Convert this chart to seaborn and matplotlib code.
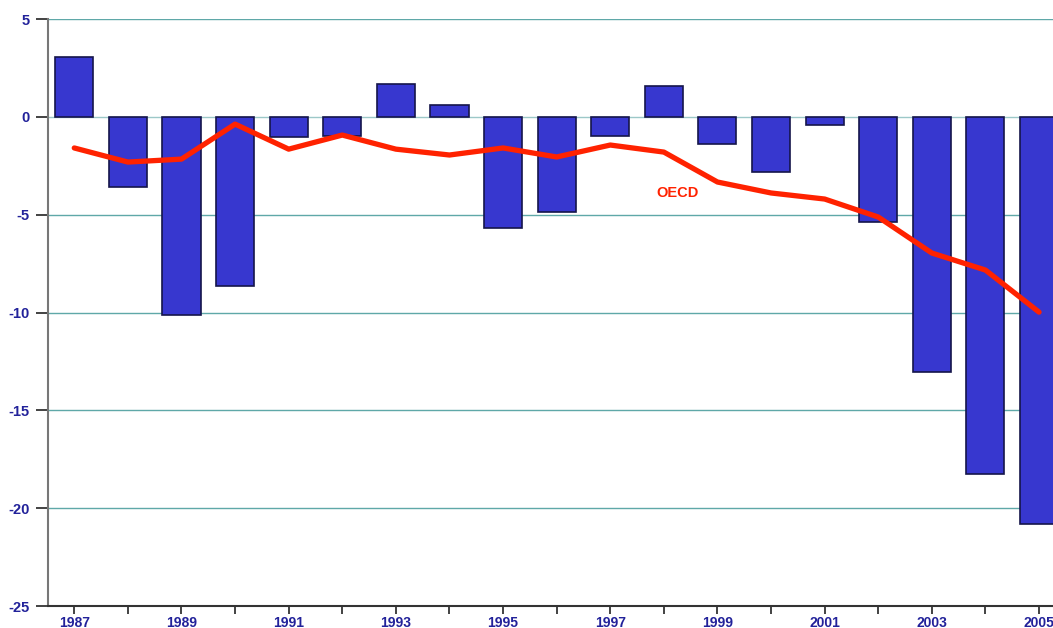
import matplotlib
matplotlib.use("Agg")
import matplotlib.pyplot as plt
import seaborn as sns
import pandas as pd
import numpy as np

years = list(range(1987, 2006))
country = [3.06, -3.59, -10.13, -8.65, -1.03, -0.98, 1.68, 0.60, -5.66, -4.84,
           -0.98, 1.57, -1.39, -2.82, -0.42, -5.36, -13.05, -18.25, -20.80]
oecd = [-1.59, -2.31, -2.16, -0.37, -1.65, -0.93, -1.65, -1.95, -1.59, -2.05,
        -1.44, -1.80, -3.33, -3.89, -4.20, -5.12, -6.96, -7.83, -9.98]
major_years = list(range(1987, 2006, 2))
minor_years = list(range(1988, 2006, 2))
yticks = [-25, -20, -15, -10, -5, 0, 5]

df = pd.DataFrame({"year": years, "country": country, "oecd": oecd})

sns.set_theme(style="white")
plt.rcParams["font.family"] = ["Liberation Sans", "DejaVu Sans"]

fig = plt.figure(figsize=(10.53, 6.28), dpi=100)
ax = fig.add_axes([0.0456, 0.035, 0.9544, 0.9347])

navy = "#22229a"
teal = "#5fa8a8"

for v in [5, -5, -10, -15, -20]:
    ax.axhline(v, color=teal, lw=1.0, zorder=0)
ax.axhline(0, color="#9cc8c8", lw=1.0, zorder=0)

sns.barplot(data=df, x="year", y="country", native_scale=True, width=0.71,
            color="#3737cf", saturation=1, edgecolor="#15154a", linewidth=1.2,
            ax=ax, zorder=2)
sns.lineplot(data=df, x="year", y="oecd", color="#ff2200", lw=3.8, ax=ax,
             zorder=3, solid_joinstyle="round")

ax.text(1998.25, -3.9, "OECD", color="#ff2200", fontsize=10.5, fontweight="bold",
        ha="center", va="center")

ax.set_xlim(1986.51, 2005.26)
ax.set_ylim(-25, 5)
ax.set_xticks(major_years)
ax.set_xticks(minor_years, minor=True)
ax.set_xticklabels([str(y) for y in major_years])
ax.set_yticks(yticks)
ax.set_yticklabels([str(v) for v in yticks])
ax.set_xlabel("")
ax.set_ylabel("")

for lab in ax.get_xticklabels() + ax.get_yticklabels():
    lab.set_color(navy)
    lab.set_fontweight("bold")
    lab.set_fontsize(10.5)
for lab in ax.get_xticklabels():
    lab.set_fontsize(10)

ax.tick_params(axis="x", which="both", direction="out", length=6, width=1.2,
               color="#222222", pad=1, bottom=True)
ax.tick_params(axis="y", direction="out", length=9, width=1.2, color="#222222",
               pad=4, left=True)

ax.spines["top"].set_visible(False)
ax.spines["right"].set_visible(False)
ax.spines["left"].set_color("#777777")
ax.spines["left"].set_linewidth(1.5)
ax.spines["bottom"].set_color("#333333")
ax.spines["bottom"].set_linewidth(1.5)

fig.savefig("out.png", dpi=100)
